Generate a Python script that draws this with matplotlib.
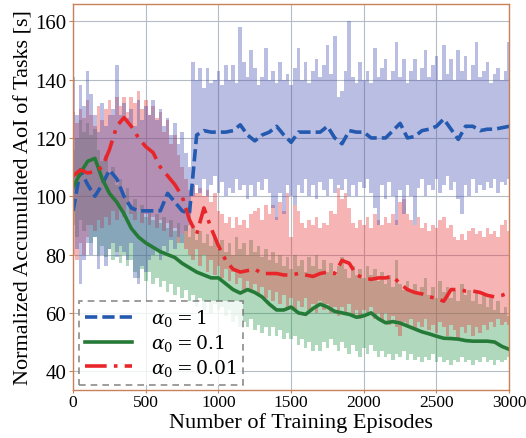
import numpy as np
import matplotlib
matplotlib.use('Agg')
import matplotlib.pyplot as plt

plt.rcParams['font.family'] = ['Liberation Serif', 'DejaVu Serif']
plt.rcParams['mathtext.fontset'] = 'dejavuserif'

# smoothed curves, one point every 50 episodes
ep_smooth = np.arange(0, 3001, 50)
blue_smooth = [95, 109, 104, 100, 104, 109, 106, 100, 96, 95, 95, 95, 95, 101, 98, 95,
               94, 121, 122.5, 122, 122, 122, 122.5, 124.5, 121, 119, 121, 122, 124, 121,
               118.5, 122, 122, 122, 122, 124, 120, 118, 122.5, 122, 122, 120, 120, 120,
               122.5, 125, 120, 120.5, 122.5, 123, 124, 126.5, 123, 119.5, 124, 124, 122.5,
               123, 123, 123.5, 124]
green_smooth = [103, 108, 112, 113, 106, 101, 98, 94, 89, 86, 84, 82.5, 81, 80, 79, 77,
                75.5, 74, 73, 72, 72, 70, 68, 66.8, 68, 67, 65.5, 63, 61, 61, 62, 60, 59.5,
                61.5, 63, 62, 60.5, 60, 59.5, 58.5, 59, 60, 58, 56.6, 57, 56.5, 55.5, 54.5,
                53.5, 52.8, 52, 51.3, 51.2, 51, 50.5, 50.3, 50.3, 50.3, 50, 48.5, 47.5]
red_smooth = [107, 109, 108, 108.5, 110, 116, 124, 127, 124, 120, 117, 115, 110, 107, 104,
              100, 92, 87, 96, 89, 83, 78, 75, 74, 74.5, 75, 73.5, 73.5, 73.5, 73, 73, 73.5,
              73, 72.5, 73.5, 74, 73.5, 78, 77, 73, 72, 71.5, 72, 72, 72.5, 70, 68, 67, 66.5,
              65.5, 65, 64, 68, 68, 67.5, 67.5, 67, 66, 65.5, 66, 67]

# raw (unsmoothed) spread, one point every 25 episodes: spike tops and bottoms
ep_raw = np.arange(0, 3001, 25)
blue_hi = [141, 128, 138, 131, 143, 135, 128, 122, 132, 124, 128, 130, 145, 128, 132, 127,
           130, 124, 133, 126, 131, 128, 133, 126, 130, 124, 127, 121, 125, 118, 122, 115,
           110, 146, 140, 144, 137, 144, 139, 140, 143, 138, 145, 140, 145, 139, 158, 146,
           141, 150, 144, 138, 141, 151, 140, 143, 139, 146, 140, 142, 138, 144, 151, 140,
           146, 139, 143, 147, 141, 145, 152, 142, 155, 134, 136, 143, 160, 141, 139, 146,
           140, 143, 139, 151, 141, 144, 147, 140, 143, 153, 141, 147, 139, 143, 147, 140,
           144, 150, 141, 145, 148, 140, 152, 142, 147, 140, 150, 143, 148, 140, 145, 153,
           141, 143, 146, 139, 142, 144, 140, 143, 153]
blue_lo = [95, 82, 70, 78, 84, 80, 86, 75, 80, 76, 82, 84, 79, 83, 81, 78, 84, 72, 70, 76,
           74, 78, 80, 82, 78, 83, 81, 85, 82, 86, 84, 88, 90, 100, 104, 101, 106, 100, 104,
           107, 101, 105, 100, 103, 101, 106, 102, 104, 99, 104, 100, 105, 102, 106, 101, 96,
           92, 101, 94, 104, 100, 97, 104, 101, 106, 100, 104, 99, 105, 102, 100, 106, 101,
           104, 102, 106, 100, 104, 100, 105, 103, 106, 101, 96, 90, 104, 99, 105, 100, 90,
           102, 94, 104, 100, 90, 103, 106, 100, 104, 102, 106, 101, 104, 107, 102, 105, 99,
           94, 104, 100, 106, 101, 104, 102, 105, 103, 106, 101, 105, 104, 106]
red_hi = [129, 125, 130, 127, 133, 128, 124, 131, 126, 130, 133, 128, 134, 131, 134, 129,
          134, 132, 136, 130, 133, 128, 131, 127, 129, 122, 126, 118, 121, 114, 110, 106,
          102, 104, 101, 103, 100, 102, 98, 101, 95, 94, 91, 93, 89, 93, 90, 92, 89, 94, 95,
          96, 92, 97, 94, 97, 93, 98, 95, 101, 86, 97, 95, 91, 89, 92, 90, 93, 89, 91, 90,
          95, 94, 103, 99, 101, 96, 91, 89, 92, 90, 93, 89, 94, 92, 90, 93, 91, 94, 92, 98,
          99, 94, 92, 90, 93, 89, 91, 88, 90, 89, 92, 93, 89, 90, 86, 85, 87, 85, 88, 89, 87,
          88, 86, 89, 87, 88, 86, 90, 92, 88]
red_lo = [80, 78, 84, 80, 86, 90, 88, 92, 89, 93, 90, 95, 92, 96, 93, 97, 94, 92, 95, 91,
          94, 90, 93, 89, 92, 88, 91, 86, 89, 84, 87, 82, 80, 78, 82, 76, 80, 74, 78, 73, 76,
          72, 75, 71, 74, 70, 72, 68, 71, 67, 70, 66, 69, 65, 68, 64, 67, 63, 66, 62, 65, 61,
          64, 62, 65, 61, 63, 60, 64, 61, 63, 60, 62, 59, 62, 60, 63, 59, 61, 58, 61, 59, 62,
          58, 60, 57, 60, 56, 59, 55, 52, 57, 55, 58, 54, 57, 55, 58, 54, 56, 53, 57, 55, 52,
          56, 54, 51, 55, 53, 56, 52, 55, 53, 56, 54, 57, 55, 58, 56, 57, 56]
green_hi = [116, 120, 126, 122, 125, 121, 123, 116, 112, 114, 108, 110, 104, 106, 100, 103,
            97, 99, 95, 97, 93, 95, 92, 94, 91, 93, 89, 92, 88, 91, 87, 90, 86, 89, 85, 88,
            84, 87, 83, 86, 82, 85, 81, 84, 80, 86, 82, 84, 80, 85, 81, 83, 79, 82, 78, 81,
            77, 80, 76, 79, 75, 80, 76, 78, 74, 79, 76, 80, 75, 78, 74, 77, 73, 76, 79, 75,
            72, 76, 73, 75, 72, 76, 73, 75, 71, 74, 70, 73, 69, 78, 70, 68, 71, 67, 70, 66,
            69, 72, 66, 69, 65, 71, 67, 69, 65, 68, 64, 70, 66, 68, 64, 67, 63, 66, 62, 65,
            61, 64, 60, 62, 59]
green_lo = [90, 86, 92, 88, 90, 84, 86, 80, 83, 79, 82, 78, 81, 77, 80, 76, 78, 74, 72, 75,
            71, 74, 70, 72, 69, 71, 67, 70, 66, 69, 65, 68, 64, 66, 62, 65, 61, 64, 60, 63,
            61, 62, 59, 61, 57, 59, 55, 57, 55, 58, 54, 56, 53, 55, 52, 55, 52, 54, 51, 53,
            51, 52, 49, 51, 48, 50, 47, 49, 47, 50, 48, 51, 49, 47, 50, 48, 46, 49, 47, 45,
            48, 46, 49, 47, 45, 47, 45, 46, 44, 46, 45, 47, 44, 46, 44, 45, 43, 45, 44, 46,
            43, 45, 43, 44, 42, 44, 43, 45, 43, 44, 42, 44, 43, 45, 43, 44, 42, 44, 43, 44, 45]

labels = [r'$\alpha_0 = 1$', r'$\alpha_0 = 0.1$', r'$\alpha_0 = 0.01$']

c_blue, c_green, c_red = '#2459b0', '#267a38', '#e8262a'

fig = plt.figure(figsize=(5.26, 4.39), dpi=100)
ax = fig.add_axes([0.139, 0.109, 0.829, 0.880])

# raw spread bands
ax.fill_between(ep_raw, green_lo, green_hi, step='mid', color='#2e9a50', alpha=0.38, lw=0)
ax.fill_between(ep_raw, red_lo, red_hi, step='mid', color='#e83a3a', alpha=0.38, lw=0)
ax.fill_between(ep_raw, blue_lo, blue_hi, step='mid', color='#4a55b5', alpha=0.38, lw=0)

ax.plot(ep_smooth, blue_smooth, color=c_blue, lw=2.6, ls=(0, (3.4, 1.4)), label=labels[0])
ax.plot(ep_smooth, green_smooth, color=c_green, lw=2.6, ls='-', label=labels[1])
ax.plot(ep_smooth, red_smooth, color=c_red, lw=2.6, ls=(0, (6, 2, 1, 2)), label=labels[2])

ax.set_xlim(0, 3000)
ax.set_ylim(33.5, 166)
ax.set_xticks(np.arange(0, 3001, 500))
ax.set_yticks(np.arange(40, 161, 20))
ax.grid(True, color='#b5bcc5', lw=0.8)
ax.set_axisbelow(True)
for s in ax.spines.values():
    s.set_color('#c8825a')
    s.set_linewidth(1.0)
ax.tick_params(length=3, color='#c8825a', pad=2)
ax.tick_params(axis='x', labelsize=12.5, length=2, pad=1)
ax.tick_params(axis='y', labelsize=15)

ax.set_xlabel('Number of Training Episodes', fontsize=16, labelpad=0)
ax.xaxis.set_label_coords(0.522, -0.058)
ax.set_ylabel('Normalized Accumulated AoI of Tasks [s]', fontsize=16, labelpad=1)

leg = ax.legend(loc='lower left', fontsize=13.5, frameon=True, fancybox=False,
                framealpha=0.8, edgecolor='#707070', handlelength=2.5,
                handletextpad=1.0, borderpad=0.35, labelspacing=0.2,
                borderaxespad=0.3)
leg.get_frame().set_linestyle((0, (4, 3)))
leg.get_frame().set_linewidth(1.2)

fig.savefig('out.png', dpi=100)
